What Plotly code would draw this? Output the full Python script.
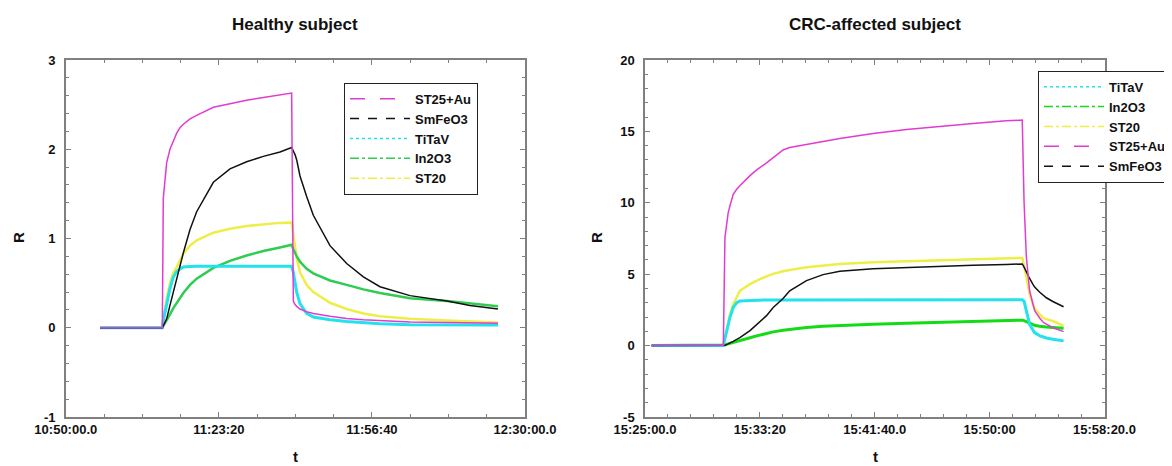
import plotly.graph_objects as go

# ---------------- data ----------------
DAY = "2000-01-01 "

# Healthy subject
t_left = ["10:57:27", "11:11:01", "11:11:14", "11:11:36", "11:11:58", "11:12:41", "11:13:25",
          "11:14:09", "11:14:52", "11:15:36", "11:17:03", "11:18:30", "11:22:08", "11:25:45",
          "11:29:23", "11:33:01", "11:36:39", "11:39:11", "11:39:33", "11:39:55", "11:40:17",
          "11:41:00", "11:42:27", "11:43:54", "11:47:32", "11:51:10", "11:54:48", "11:58:25",
          "12:04:57", "12:13:00", "12:18:01", "12:24:07"]
st25au_left = [0, 0, 1.45, 1.68, 1.85, 2.0, 2.1, 2.18, 2.24, 2.28, 2.34, 2.38, 2.47, 2.51, 2.55,
               2.58, 2.61, 2.63, 0.30, 0.26, 0.24, 0.21, 0.18, 0.16, 0.13, 0.105, 0.09, 0.08,
               0.065, 0.06, 0.055, 0.05]
smfeo3_left = [0, 0, 0.02, 0.06, 0.10, 0.25, 0.40, 0.54, 0.68, 0.84, 1.10, 1.30, 1.63, 1.78, 1.86,
               1.92, 1.97, 2.02, 1.98, 1.94, 1.88, 1.70, 1.47, 1.26, 0.92, 0.72, 0.57, 0.46,
               0.36, 0.30, 0.25, 0.21]
titav_left = [0, 0, 0.08, 0.18, 0.28, 0.44, 0.57, 0.63, 0.66, 0.68, 0.685, 0.69, 0.69, 0.69, 0.69,
              0.69, 0.69, 0.69, 0.62, 0.50, 0.40, 0.27, 0.16, 0.12, 0.09, 0.07, 0.055, 0.045,
              0.035, 0.03, 0.03, 0.03]
in2o3_left = [0, 0, 0.02, 0.05, 0.08, 0.15, 0.22, 0.28, 0.34, 0.39, 0.48, 0.55, 0.67, 0.75, 0.81,
              0.86, 0.90, 0.93, 0.88, 0.83, 0.80, 0.74, 0.66, 0.61, 0.53, 0.48, 0.43, 0.39,
              0.33, 0.30, 0.27, 0.24]
st20_left = [0, 0, 0.10, 0.22, 0.33, 0.50, 0.62, 0.68, 0.76, 0.83, 0.92, 0.98, 1.065, 1.11, 1.14,
             1.16, 1.175, 1.18, 1.05, 0.91, 0.78, 0.62, 0.48, 0.40, 0.28, 0.21, 0.16, 0.13,
             0.10, 0.08, 0.07, 0.06]

# CRC-affected subject
t_right = ["15:25:29", "15:30:41", "15:30:48", "15:31:02", "15:31:10", "15:31:24", "15:31:39",
           "15:31:53", "15:32:37", "15:33:06", "15:33:49", "15:34:18", "15:35:01", "15:35:30",
           "15:36:43", "15:37:55", "15:39:08", "15:41:33", "15:43:58", "15:46:23", "15:48:48",
           "15:51:12", "15:52:22", "15:52:30", "15:52:40", "15:52:54", "15:53:08", "15:53:16",
           "15:53:37", "15:53:52", "15:54:07", "15:54:35", "15:55:22"]
titav_right = [0, 0, 0.5, 1.5, 2.0, 2.67, 3.0, 3.12, 3.17, 3.19, 3.2, 3.2, 3.2, 3.2, 3.2, 3.2, 3.2,
               3.21, 3.21, 3.21, 3.21, 3.21, 3.21, 3.1, 2.4, 1.5, 1.1, 0.91, 0.7, 0.6, 0.53,
               0.45, 0.33]
in2o3_right = [0, 0, 0.04, 0.12, 0.16, 0.22, 0.28, 0.34, 0.55, 0.68, 0.85, 0.96, 1.07, 1.13, 1.27,
               1.35, 1.41, 1.5, 1.57, 1.64, 1.69, 1.74, 1.78, 1.75, 1.68, 1.55, 1.45, 1.42,
               1.36, 1.32, 1.30, 1.27, 1.22]
st20_right = [0, 0, 0.5, 1.6, 2.2, 2.9, 3.4, 3.84, 4.3, 4.55, 4.85, 5.02, 5.2, 5.3, 5.48, 5.6,
              5.72, 5.83, 5.90, 6.0, 6.07, 6.12, 6.14, 5.6, 4.78, 3.61, 2.91, 2.6, 2.2, 1.95,
              1.85, 1.72, 1.38]
st25au_right = [0, 0, 7.6, 9.3, 9.8, 10.6, 10.95, 11.2, 11.9, 12.3, 12.8, 13.15, 13.7, 13.87,
                14.1, 14.3, 14.5, 14.86, 15.14, 15.37, 15.56, 15.74, 15.79, 10.0, 6.2, 3.84,
                2.9, 2.44, 1.95, 1.65, 1.5, 1.25, 0.98]
smfeo3_right = [0, 0, 0.03, 0.12, 0.17, 0.3, 0.43, 0.56, 1.05, 1.5, 2.1, 2.67, 3.3, 3.84, 4.55,
                4.97, 5.2, 5.39, 5.48, 5.58, 5.62, 5.68, 5.72, 5.5, 5.13, 4.7, 4.31, 4.1, 3.75,
                3.55, 3.35, 3.09, 2.72]

left_ticks = ["10:50:00", "11:23:20", "11:56:40", "12:30:00"]
left_ticktext = ["10:50:00.0", "11:23:20", "11:56:40", "12:30:00.0"]
right_ticks = ["15:25:00", "15:33:20", "15:41:40", "15:50:00", "15:58:20"]
right_ticktext = ["15:25:00.0", "15:33:20", "15:41:40.0", "15:50:00", "15:58:20.0"]
left_yticks = [-1, 0, 1, 2, 3]
left_yticktext = ["-1", "0", "1", "2", "3"]
right_yticks = [-5, 0, 5, 10, 15, 20]
right_yticktext = ["-5", "0", "5", "10", "15", "20"]

# ---------------- styling ----------------
FONT = "Liberation Sans, Arial, sans-serif"
AX = "#808080"
MAG, BLK, CYA, YEL = "#E03CD2", "#111111", "#22E2EC", "#EEEE48"
GRN_L, GRN_R = "#2ECC50", "#14DC14"
W, H = 1172, 466
OFF = 8  # page body margin


def px(x):
    return (x - OFF) / W


def py(y):
    return 1 - (y - OFF) / H


def ts(lst):
    return [DAY + s for s in lst]


fig = go.Figure()

left_series = [
    ("ST20", st20_left, YEL, 2.5, "dashdot"),
    ("In2O3", in2o3_left, GRN_L, 2.5, "dashdot"),
    ("TiTaV", titav_left, CYA, 3, "dot"),
    ("SmFeO3", smfeo3_left, BLK, 1.5, "dash"),
    ("ST25+Au", st25au_left, MAG, 1.5, "longdash"),
]
right_series = [
    ("ST20", st20_right, YEL, 2.5, "dashdot"),
    ("In2O3", in2o3_right, GRN_R, 3, "dashdot"),
    ("TiTaV", titav_right, CYA, 3, "dot"),
    ("SmFeO3", smfeo3_right, BLK, 1.5, "dash"),
    ("ST25+Au", st25au_right, MAG, 1.5, "longdash"),
]

for name, vals, col, w, _ in left_series:
    fig.add_trace(go.Scatter(x=ts(t_left), y=vals, mode="lines", name=name,
                             line=dict(color=col, width=w), showlegend=False,
                             xaxis="x", yaxis="y"))
for name, vals, col, w, _ in right_series:
    fig.add_trace(go.Scatter(x=ts(t_right), y=vals, mode="lines", name=name,
                             line=dict(color=col, width=w), showlegend=False,
                             xaxis="x2", yaxis="y2"))

# legend entries (dash styles as in the legends)
left_order = ["ST25+Au", "SmFeO3", "TiTaV", "In2O3", "ST20"]
right_order = ["TiTaV", "In2O3", "ST20", "ST25+Au", "SmFeO3"]
lmap = {s[0]: s for s in left_series}
rmap = {s[0]: s for s in right_series}
for name in left_order:
    _, _, col, _, dash = lmap[name]
    fig.add_trace(go.Scatter(x=[None], y=[None], mode="lines", name=name,
                             line=dict(color=col, width=1.5, dash=dash),
                             legend="legend", xaxis="x", yaxis="y"))
for name in right_order:
    _, _, col, _, dash = rmap[name]
    fig.add_trace(go.Scatter(x=[None], y=[None], mode="lines", name=name,
                             line=dict(color=col, width=1.5, dash=dash),
                             legend="legend2", xaxis="x2", yaxis="y2"))

tickfont = dict(family=FONT, size=13, color="#111111", weight="bold")

common_x = dict(type="date", showgrid=False, zeroline=False, showline=True, linecolor=AX,
                linewidth=1.5, mirror="allticks", ticks="inside", ticklen=5, tickcolor=AX,
                tickwidth=1, tickfont=tickfont)
common_y = dict(showgrid=False, zeroline=False, showline=True, linecolor=AX, linewidth=1.5,
                mirror="allticks", ticks="inside", ticklen=5, tickcolor=AX, tickwidth=1,
                tickfont=tickfont, ticklabelstandoff=6)

legend_common = dict(bgcolor="white", bordercolor="#222222", borderwidth=1,
                     font=dict(family=FONT, size=13, color="#111111", weight="bold"),
                     xanchor="left", yanchor="top", tracegroupgap=0, itemwidth=60,
                     traceorder="normal", entrywidth=108, entrywidthmode="pixels")

y_dom = [py(417), py(60)]
fig.update_layout(
    width=W, height=H,
    margin=dict(l=0, r=0, t=0, b=0, autoexpand=False),
    paper_bgcolor="white", plot_bgcolor="white",
    font=dict(family=FONT, color="#111111"),
    xaxis=dict(domain=[px(65.8), px(525)], anchor="y",
               range=[DAY + "10:50:00", DAY + "12:30:00"],
               tickvals=ts(left_ticks), ticktext=left_ticktext,
               minor=dict(ticks="inside", ticklen=3, tickcolor=AX, dtick=500000,
                          tick0=DAY + "10:50:00", showgrid=False),
               **common_x),
    yaxis=dict(domain=y_dom, anchor="x", range=[-1, 3],
               tickvals=left_yticks, ticktext=left_yticktext,
               minor=dict(ticks="inside", ticklen=3, tickcolor=AX, tick0=0, dtick=0.2,
                          showgrid=False),
               **common_y),
    xaxis2=dict(domain=[px(645), px(1104.5)], anchor="y2",
                range=[DAY + "15:25:00", DAY + "15:58:20"],
                tickvals=ts(right_ticks), ticktext=right_ticktext,
                minor=dict(ticks="inside", ticklen=3, tickcolor=AX, dtick=100000,
                           tick0=DAY + "15:25:00", showgrid=False),
                **common_x),
    yaxis2=dict(domain=y_dom, anchor="x2", range=[-5, 20],
                tickvals=right_yticks, ticktext=right_yticktext,
                minor=dict(ticks="inside", ticklen=3, tickcolor=AX, tick0=0, dtick=1,
                           showgrid=False),
                **common_y),
    legend=dict(x=px(344), y=py(82.7), **legend_common),
    legend2=dict(x=px(1038), y=py(70.7), **legend_common),
)

title_font = dict(family=FONT, size=17, color="#111111", weight="bold")
label_font = dict(family=FONT, size=15, color="#111111", weight="bold")
annos = [
    dict(text="Healthy subject", x=px(295), y=py(25), font=title_font),
    dict(text="CRC-affected subject", x=px(875), y=py(25), font=title_font),
    dict(text="R", x=px(18), y=py(238), font=label_font, textangle=-90),
    dict(text="R", x=px(596), y=py(238), font=label_font, textangle=-90),
    dict(text="t", x=px(295), y=py(456), font=label_font),
    dict(text="t", x=px(875), y=py(456), font=label_font),
]
for a in annos:
    fig.add_annotation(xref="paper", yref="paper", showarrow=False,
                       xanchor="center", yanchor="middle", **a)

fig.write_html("out.html")
